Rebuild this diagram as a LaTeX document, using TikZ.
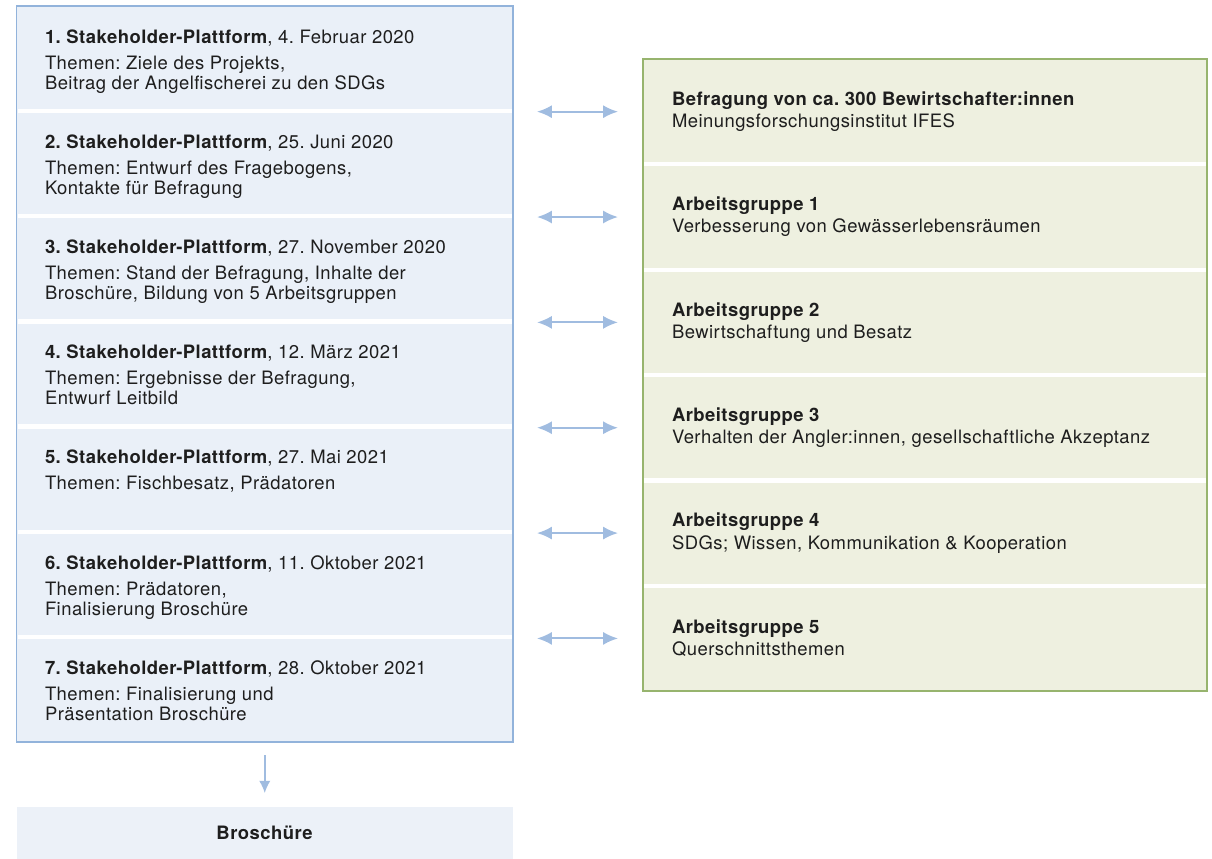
\documentclass[tikz,border=0pt]{standalone}
\usepackage{fontspec}
\setmainfont{TeX Gyre Heros}[LetterSpace=2.5]
\usepackage{tikz}
\usetikzlibrary{arrows.meta, positioning, fit}
\frenchspacing
\definecolor{platfill}{HTML}{EAF0F8}
\definecolor{platdraw}{HTML}{92B3DB}
\definecolor{agfill}{HTML}{EEF0E0}
\definecolor{agdraw}{HTML}{97B46E}
\definecolor{arrcolor}{HTML}{A0BCE0}
\definecolor{broschfill}{HTML}{ECF1F8}
\definecolor{textcolor}{HTML}{1E1E1E}

\begin{document}
\begin{tikzpicture}[
  font=\fontsize{10.5}{11.4}\selectfont,
  every node/.style={text=textcolor, inner sep=0pt, outer sep=0pt},
  platbox/.style={fill=platfill, minimum width=9.93cm, minimum height=2.103cm},
  agbox/.style={fill=agfill, minimum width=11.28cm, minimum height=2.107cm},
  broschbox/.style={fill=broschfill, minimum width=9.93cm, minimum height=1.04cm},
  plattext/.style={align=left, anchor=north west},
  agtext/.style={align=left},
  sepline/.style={white, line width=2.4pt},
  biarr/.style={{Latex[length=8.5pt, width=7.5pt]}-{Latex[length=8.5pt, width=7.5pt]},
    arrcolor, line width=1.2pt, shorten <=0.48cm, shorten >=0.5cm},
  downarr/.style={-{Latex[length=7pt, width=6.5pt]}, arrcolor, line width=0.9pt,
    shorten <=0.26cm, shorten >=0.28cm},
]

\useasboundingbox (0,0) rectangle (24.24,-17.18);

%% ─── Stakeholder-Plattformen (left column) ──────────────────────────────────

\node[platbox, anchor=north west] (sp1) at (0.33,-0.12) {};
\node[platbox, below=0pt of sp1] (sp2) {};
\node[platbox, below=0pt of sp2] (sp3) {};
\node[platbox, below=0pt of sp3] (sp4) {};
\node[platbox, below=0pt of sp4] (sp5) {};
\node[platbox, below=0pt of sp5] (sp6) {};
\node[platbox, below=0pt of sp6] (sp7) {};

\node[plattext, below right=0.47cm and 0.57cm of sp1.north west] (sp1text)
  {\textbf{1. Stakeholder-Plattform}, 4. Februar 2020\\[3.4pt]
   Themen: Ziele des Projekts,\\
   Beitrag der Angelfischerei zu den SDGs};
\node[plattext, below right=0.47cm and 0.57cm of sp2.north west] (sp2text)
  {\textbf{2. Stakeholder-Plattform}, 25. Juni 2020\\[3.4pt]
   Themen: Entwurf des Fragebogens,\\
   Kontakte für Befragung};
\node[plattext, below right=0.47cm and 0.57cm of sp3.north west] (sp3text)
  {\textbf{3. Stakeholder-Plattform}, 27. November 2020\\[3.4pt]
   Themen: Stand der Befragung, Inhalte der\\
   Broschüre, Bildung von 5 Arbeitsgruppen};
\node[plattext, below right=0.47cm and 0.57cm of sp4.north west] (sp4text)
  {\textbf{4. Stakeholder-Plattform}, 12. März 2021\\[3.4pt]
   Themen: Ergebnisse der Befragung,\\
   Entwurf Leitbild};
\node[plattext, below right=0.47cm and 0.57cm of sp5.north west] (sp5text)
  {\textbf{5. Stakeholder-Plattform}, 27. Mai 2021\\[3.4pt]
   Themen: Fischbesatz, Prädatoren};
\node[plattext, below right=0.47cm and 0.57cm of sp6.north west] (sp6text)
  {\textbf{6. Stakeholder-Plattform}, 11. Oktober 2021\\[3.4pt]
   Themen: Prädatoren,\\
   Finalisierung Broschüre};
\node[plattext, below right=0.47cm and 0.57cm of sp7.north west] (sp7text)
  {\textbf{7. Stakeholder-Plattform}, 28. Oktober 2021\\[3.4pt]
   Themen: Finalisierung und\\
   Präsentation Broschüre};

%% ─── Befragung und Arbeitsgruppen (right column) ────────────────────────────

\node[agbox, anchor=north west] (befragung) at (12.86,-1.18) {};
\node[agbox, below=0pt of befragung] (ag1) {};
\node[agbox, below=0pt of ag1] (ag2) {};
\node[agbox, below=0pt of ag2] (ag3) {};
\node[agbox, below=0pt of ag3] (ag4) {};
\node[agbox, below=0pt of ag4] (ag5) {};

\node[agtext, right=0.58cm of befragung.west] (befragungtext)
  {\textbf{Befragung von ca. 300 Bewirtschafter:innen}\\[1.2pt]
   Meinungsforschungsinstitut IFES};
\node[agtext, right=0.58cm of ag1.west] (ag1text)
  {\textbf{Arbeitsgruppe 1}\\[1.2pt]
   Verbesserung von Gewässerlebensräumen};
\node[agtext, right=0.58cm of ag2.west] (ag2text)
  {\textbf{Arbeitsgruppe 2}\\[1.2pt]
   Bewirtschaftung und Besatz};
\node[agtext, right=0.58cm of ag3.west] (ag3text)
  {\textbf{Arbeitsgruppe 3}\\[1.2pt]
   Verhalten der Angler:innen, gesellschaftliche Akzeptanz};
\node[agtext, right=0.58cm of ag4.west] (ag4text)
  {\textbf{Arbeitsgruppe 4}\\[1.2pt]
   SDGs; Wissen, Kommunikation \& Kooperation};
\node[agtext, right=0.58cm of ag5.west] (ag5text)
  {\textbf{Arbeitsgruppe 5}\\[1.2pt]
   Querschnittsthemen};

%% ─── White separators between the sections ──────────────────────────────────

\foreach \nd in {sp1, sp2, sp3, sp4, sp5, sp6, befragung, ag1, ag2, ag3, ag4}{
  \draw[sepline] ([xshift=0.6pt]\nd.south west) -- ([xshift=-0.6pt]\nd.south east);
}

%% ─── Frames ─────────────────────────────────────────────────────────────────

\node[draw=platdraw, line width=1.1pt, fit=(sp1)(sp7)] (plattformen) {};
\node[draw=agdraw, line width=1.3pt, fit=(befragung)(ag5)] (arbeitsgruppen) {};

%% ─── Broschüre ──────────────────────────────────────────────────────────────

\node[broschbox, below=1.3cm of plattformen] (broschuere) {\textbf{Broschüre}};

\draw[downarr] (plattformen) -- (broschuere);

%% ─── Double arrows between the columns ──────────────────────────────────────

\foreach \nd in {befragung, ag1, ag2, ag3, ag4, ag5}{
  \draw[biarr] (\nd.west -| plattformen.east) -- (\nd.west);
}

\end{tikzpicture}
\end{document}
